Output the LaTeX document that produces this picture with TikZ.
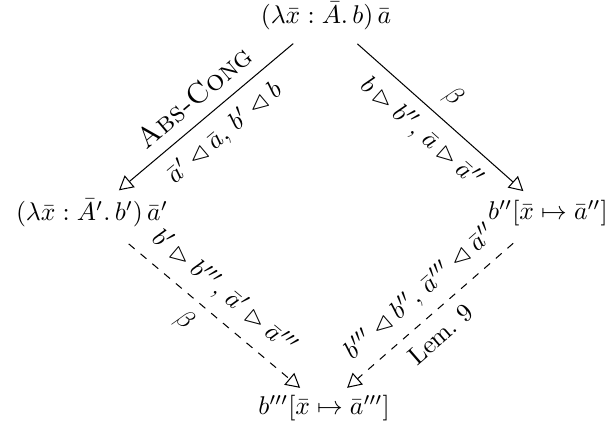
\documentclass[tikz,border=0pt]{standalone}
\usepackage{amssymb}
\usetikzlibrary{arrows.meta}
\begin{document}
\begin{tikzpicture}[x=0.39pt,y=-0.39pt,
  term/.style={inner sep=2pt},
  arr/.style={-{Triangle[open,length=5.5pt,width=6pt]},line width=0.4pt,shorten <=5pt,shorten >=2pt},
  dasharr/.style={arr,dashed,shorten <=7pt,shorten >=1pt},
  lab/.style={sloped,inner sep=4.5pt}]
\useasboundingbox (0,0) rectangle (611,431);
\node[term] (T) at (326,16) {$(\lambda\bar{x} : \bar{A}.\, b)\,\bar{a}$};
\node[term] (L) at (92,213) {$(\lambda\bar{x} : \bar{A}'.\, b')\,\bar{a}'$};
\node[term] (R) at (548,213) {$b''[\bar{x} \mapsto \bar{a}'']$};
\node[term] (B) at (324,408) {$b'''[\bar{x} \mapsto \bar{a}''']$};
\draw[arr] (T) -- node[lab,above,scale=1.12,inner sep=4pt] {\textsc{Abs-Cong}} node[lab,below] {$\bar{a}' \lhd \bar{a},\, b' \lhd b$} (L);
\draw[arr] (T) -- node[lab,above] {$\beta$} node[lab,below] {$b \rhd b'',\, \bar{a} \rhd \bar{a}''$} (R);
\draw[dasharr] (L) -- node[lab,above] {$b' \rhd b''',\, \bar{a}' \rhd \bar{a}'''$} node[lab,below,pos=0.45] {$\beta$} (B);
\draw[dasharr] (R) -- node[lab,above] {$b''' \lhd b'',\, \bar{a}''' \lhd \bar{a}''$} node[lab,below,pos=0.55] {Lem.~9} (B);
\end{tikzpicture}
\end{document}
